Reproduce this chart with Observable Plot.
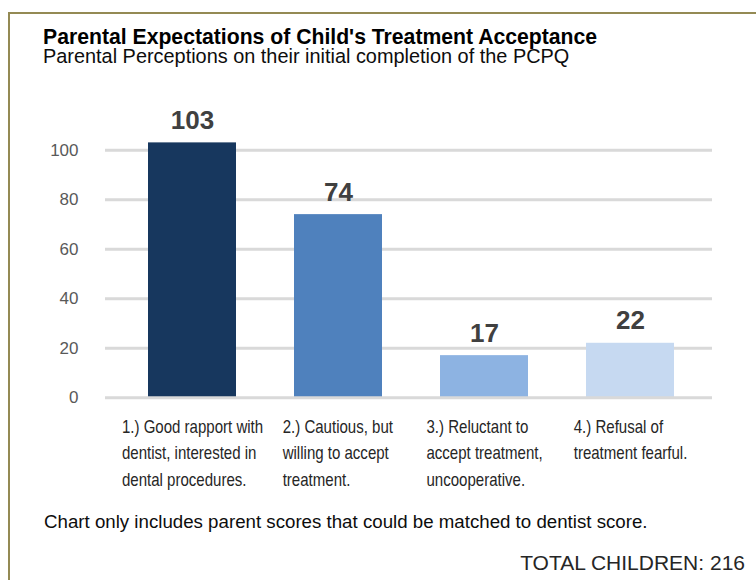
<!DOCTYPE html>
<html>
<head>
<meta charset="utf-8">
<script src="https://cdn.jsdelivr.net/npm/d3@7"></script>
<script src="https://cdn.jsdelivr.net/npm/@observablehq/plot@0.6"></script>
<style>
  html, body { margin: 0; padding: 0; background: #fff; }
  body { width: 756px; height: 580px; position: relative; overflow: hidden;
         font-family: "Liberation Sans", Arial, sans-serif; }
  .frame { position: absolute; left: 8px; top: 12px; width: 800px; height: 620px;
           border-top: 2.5px solid #948A54; border-left: 2.5px solid #948A54; box-sizing: border-box; }
  .txt { position: absolute; white-space: nowrap; line-height: 0.85; }
  #title { left: 43px; top: 27.6px; font-weight: bold; font-size: 21.2px; color: #000; }
  #subtitle { left: 43px; top: 48px; font-size: 19.9px; color: #0d0d0d; }
  #chart { position: absolute; left: 0; top: 96px; }
  #caption { left: 44px; top: 513.6px; font-size: 18.7px; color: #0d0d0d; }
  #total { right: 11px; top: 553.8px; font-size: 21px; color: #262626; }
</style>
</head>
<body>
<div class="frame"></div>
<div id="title" class="txt">Parental Expectations of Child's Treatment Acceptance</div>
<div id="subtitle" class="txt">Parental Perceptions on their initial completion of the PCPQ</div>
<div id="chart"></div>
<div id="caption" class="txt">Chart only includes parent scores that could be matched to dentist score.</div>
<div id="total" class="txt">TOTAL CHILDREN: 216</div>
<script>
// Parent-reported expectation categories (wrapped as shown under the bars)
const categoryLabels = [
  "1.) Good rapport with\ndentist, interested in\ndental procedures.",
  "2.) Cautious, but\nwilling to accept\ntreatment.",
  "3.) Reluctant to\naccept treatment,\nuncooperative.",
  "4.) Refusal of\ntreatment fearful."
];
// Number of children in each category
const counts = [103, 74, 17, 22];
// Value axis ticks
const yTicks = [0, 20, 40, 60, 80, 100];

const rows = categoryLabels.map((label, i) => ({label, count: counts[i]}));

const chart = Plot.plot({
  width: 756,
  height: 400,
  marginLeft: 105,
  marginRight: 44,
  marginTop: 0,
  marginBottom: 98.8,
  style: {fontFamily: '"Liberation Sans", Arial, sans-serif', background: "transparent", overflow: "visible"},
  x: {type: "band", domain: categoryLabels, range: [119, 703], paddingInner: 0.4, paddingOuter: 0.2, axis: null, label: null},
  y: {domain: [0, 100], range: [301.2, 53.8], label: null},
  color: {type: "ordinal", domain: categoryLabels, range: ["#17375E", "#4F81BD", "#8DB3E2", "#C6D9F1"]},
  marks: [
    Plot.ruleY(yTicks.filter(t => t > 0), {stroke: "#D9D9D9", strokeWidth: 3}),
    Plot.barY(rows, {x: "label", y: "count", fill: "label"}),
    Plot.ruleY([0], {stroke: "#D9D9D9", strokeWidth: 3}),
    Plot.text(rows, {
      x: "label", y: "count", text: d => String(d.count),
      lineAnchor: "bottom", dy: -14,
      fontSize: 26, fontWeight: "bold", fill: "#404040"
    }),
    Plot.axisY({ticks: yTicks, tickSize: 0, tickPadding: 27, fontSize: 17, fill: "#595959"}),
    // category captions below the value axis
    Plot.text(rows, {
      x: "label", text: "label", frameAnchor: "bottom",
      lineAnchor: "top", dy: 16, textAnchor: "start", lineHeight: 1.41,
      fontSize: 18.8, fill: "#262626"
    })
  ]
});

document.getElementById("chart").appendChild(chart);

// Condense each caption horizontally and centre the left-aligned block under its bar
const squeeze = 0.8;
const groups = chart.querySelectorAll(":scope > g");
const captionGroup = groups[groups.length - 1];
captionGroup.querySelectorAll("text").forEach(t => {
  const w = t.getBBox().width * squeeze;
  t.setAttribute("transform", (t.getAttribute("transform") || "") + ` translate(${-w / 2},0) scale(${squeeze},1)`);
});
</script>
</body>
</html>
